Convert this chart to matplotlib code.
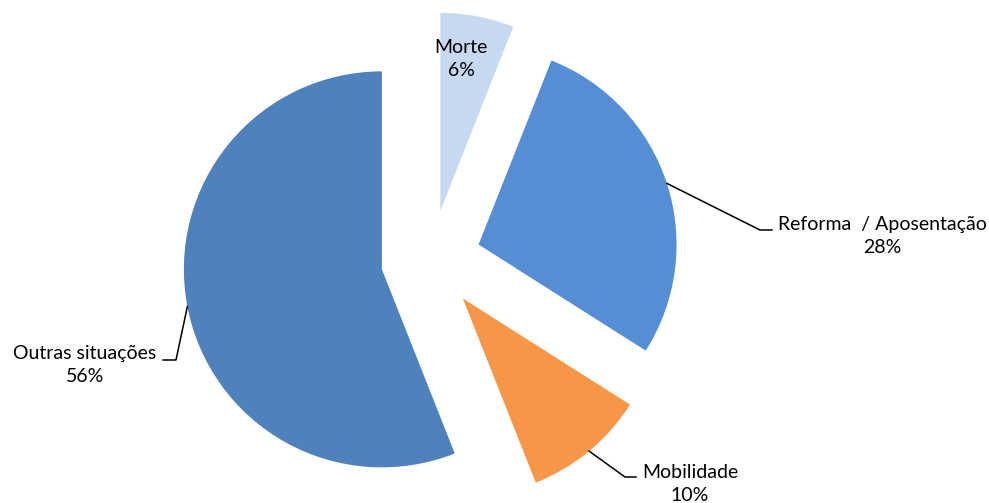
import matplotlib.pyplot as plt
import numpy as np

# Dados
categorias = ['Morte', 'Reforma  / Aposentação', 'Mobilidade', 'Outras situações']
valores = [6, 28, 10, 56]
cores = ['#C6D9F1', '#558ED5', '#F79646', '#4F81BD']

# Posição dos rótulos (em pixels, origem em baixo à esquerda)
pos_rotulos = [(461, 444), (882, 267), (690, 19), (85, 138)]
# Linhas de chamada: cotovelo e fim horizontal (None = sem linha)
cotovelos = [None, ((760, 273), (772, 273)), ((625, 26), (636, 26)), ((176, 143), (163, 143))]

plt.rcParams['font.family'] = ['Lato', 'DejaVu Sans']

fig = plt.figure(figsize=(9.89, 5.03), dpi=100)
ax = fig.add_axes([0, 0, 1, 1])

centro = (431, 243)
raio = 198
explodir = [50] * len(valores)

wedges, _ = ax.pie(valores, colors=cores, startangle=90, counterclock=False,
                   radius=raio, center=centro, explode=explodir, frame=True)
ax.set_xlim(0, 989)
ax.set_ylim(0, 503)
ax.axis('off')

for w, cat, v, pos, cot in zip(wedges, categorias, valores, pos_rotulos, cotovelos):
    ax.text(pos[0], pos[1], f'{cat}\n{v}%', ha='center', va='center',
            fontsize=14, color='black', linespacing=1.4)
    if cot is not None:
        ang = np.deg2rad((w.theta1 + w.theta2) / 2)
        cx, cy = w.center
        x0 = cx + w.r * np.cos(ang)
        y0 = cy + w.r * np.sin(ang)
        ax.plot([x0, cot[0][0], cot[1][0]], [y0, cot[0][1], cot[1][1]],
                color='black', lw=1.1)

fig.savefig('out.png', dpi=100)
